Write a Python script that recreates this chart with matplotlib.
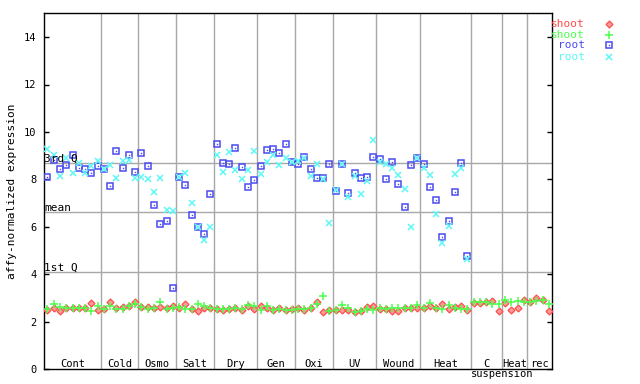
import matplotlib
matplotlib.use("Agg")
import matplotlib.pyplot as plt
from matplotlib.lines import Line2D
from matplotlib import transforms

# ---------------- data ----------------
groups = ["Cont", "Cold", "Osmo", "Salt", "Dry", "Gen", "Oxi", "UV",
          "Wound", "Heat", "C", "Heat", "rec"]
group_sizes = [9, 6, 6, 6, 7, 6, 6, 7, 7, 8, 5, 4, 4]

root_rep1 = [8.10, 8.81, 8.43, 8.60, 9.02, 8.48, 8.43, 8.27, 8.56,
             8.42, 7.72, 9.19, 8.48, 9.02, 8.31,
             9.11, 8.56, 6.92, 6.11, 6.24, 3.42,
             8.10, 7.76, 6.49, 6.00, 5.69, 7.38,
             9.49, 8.69, 8.64, 9.32, 8.52, 7.67, 7.97,
             8.56, 9.23, 9.28, 9.11, 9.49, 8.73,
             8.64, 8.94, 8.43, 8.05, 8.05, 8.64,
             7.53, 8.64, 7.42, 8.27, 8.05, 8.10, 8.94,
             8.86, 8.01, 8.73, 7.80, 6.83, 8.60, 8.92,
             8.64, 7.67, 7.13, 5.57, 6.24, 7.46, 8.69, 4.78]

root_rep2 = [9.28, 9.04, 8.14, 8.91, 8.27, 8.69, 8.27, 8.56, 8.77,
             8.45, 8.60, 8.05, 8.77, 8.81, 8.05,
             8.10, 8.01, 7.46, 8.05, 6.70, 6.66,
             8.10, 8.27, 7.00, 6.00, 5.44, 5.99,
             9.04, 8.31, 9.15, 8.39, 8.01, 8.39, 9.19,
             8.22, 8.73, 9.02, 8.60, 8.90, 8.75,
             8.77, 8.90, 8.14, 8.64, 8.00, 6.16,
             7.55, 8.64, 7.25, 8.14, 7.38, 7.93, 9.66,
             8.73, 8.64, 8.48, 8.18, 7.59, 5.99, 8.92,
             8.48, 8.18, 6.54, 5.31, 6.03, 8.22, 8.48, 4.64]

shoot_rep1 = [2.48, 2.60, 2.47, 2.57, 2.57, 2.57, 2.57, 2.78, 2.51,
              2.53, 2.85, 2.57, 2.63, 2.67, 2.85,
              2.61, 2.63, 2.57, 2.64, 2.57, 2.68,
              2.57, 2.75, 2.53, 2.47, 2.57, 2.60,
              2.53, 2.48, 2.53, 2.60, 2.48, 2.67, 2.53,
              2.67, 2.57, 2.48, 2.57, 2.48, 2.53,
              2.57, 2.48, 2.60, 2.82, 2.40, 2.48,
              2.48, 2.48, 2.48, 2.40, 2.46, 2.63, 2.67,
              2.53, 2.53, 2.46, 2.46, 2.57, 2.57, 2.60,
              2.60, 2.67, 2.60, 2.75, 2.53, 2.61, 2.67, 2.48,
              2.78, 2.78, 2.82, 2.89, 2.46,
              2.78, 2.48, 2.57, 2.92,
              2.82, 2.99, 2.92, 2.46]

shoot_rep2 = [2.52, 2.74, 2.61, 2.57, 2.60, 2.57, 2.57, 2.47, 2.67,
              2.53, 2.68, 2.53, 2.53, 2.67, 2.74,
              2.61, 2.53, 2.57, 2.82, 2.54, 2.60,
              2.63, 2.53, 2.53, 2.74, 2.67, 2.60,
              2.53, 2.54, 2.53, 2.60, 2.53, 2.71, 2.67,
              2.48, 2.67, 2.48, 2.54, 2.48, 2.48,
              2.54, 2.54, 2.60, 2.74, 3.08, 2.46,
              2.48, 2.71, 2.57, 2.43, 2.46, 2.54, 2.48,
              2.60, 2.53, 2.57, 2.57, 2.57, 2.60, 2.71,
              2.60, 2.78, 2.57, 2.53, 2.71, 2.57, 2.53, 2.53,
              2.82, 2.82, 2.85, 2.74, 2.74,
              2.92, 2.85, 2.89, 2.85,
              2.85, 2.88, 2.92, 2.75]

ref_labels = ["3rd Q", "mean", "1st Q"]
ref_values = [8.68, 6.61, 4.08]
yticks = [0, 2, 4, 6, 8, 10, 12, 14]
series_labels = ["shoot", "shoot", "root", "root"]

# ---------------- style ----------------
RED = "#ff4c4c"
RED_FACE = "#ff9a9a"
GREEN = "#4cff4c"
BLUE = "#4c4cf0"
CYAN = "#5cf8f8"
GRID = "#a8a8a8"
FONT = "DejaVu Sans Mono"
FS = 8
FS_SMALL = 7.5

plt.rcParams["font.family"] = [FONT, "DejaVu Sans"]

fig = plt.figure(figsize=(6.4, 3.84), dpi=100)
W, H = 640.0, 384.0
L, R, T, B = 44.3, 552.0, 13.3, 369.3
ax = fig.add_axes([L / W, 1 - B / H, (R - L) / W, (B - T) / H])

n_total = len(shoot_rep1)
ax.set_xlim(-0.5, n_total - 0.5)
ax.set_ylim(0, 15)

# group separators and labels
bounds = []
acc = 0
for s in group_sizes[:-1]:
    acc += s
    bounds.append(acc - 0.5)
for b in bounds:
    ax.axvline(b, color=GRID, lw=1.0, zorder=1)

trans = transforms.blended_transform_factory(ax.transData, ax.transAxes)
start = -0.5
for g, s in zip(groups, group_sizes):
    c = start + s / 2.0
    ax.text(c, 0.0075, g, transform=trans, ha="center", va="baseline",
            fontsize=FS_SMALL, color="black", zorder=5)
    start += s
ax.text(bounds[10], -0.022, "suspension", transform=trans, ha="center",
        va="baseline", fontsize=FS_SMALL, color="black", clip_on=False)

# reference lines
for lab, v in zip(ref_labels, ref_values):
    ax.axhline(v, color=GRID, lw=1.0, zorder=1)
    ax.text(-0.5, v + 0.06, lab, ha="left", va="baseline", fontsize=FS,
            color="black", zorder=5)

# data
xs_shoot = list(range(len(shoot_rep1)))
xs_root = list(range(len(root_rep1)))
ax.plot(xs_shoot, shoot_rep1, ls="none", marker="D", ms=3.5,
        mfc=RED_FACE, mec=RED, mew=0.9, zorder=3)
ax.plot(xs_shoot, shoot_rep2, ls="none", marker="+", ms=5.3,
        mec=GREEN, mew=1.1, zorder=3)
ax.plot(xs_root, root_rep1, ls="none", marker="s", ms=4.1,
        mfc="none", mec=BLUE, mew=1.1, zorder=3)
ax.plot(xs_root, root_rep1, ls="none", marker="s", ms=1.0,
        mfc=BLUE, mec=BLUE, mew=0, zorder=3)
ax.plot(xs_root, root_rep2, ls="none", marker="x", ms=4.8,
        mec=CYAN, mew=1.1, zorder=4)

# axes styling
ax.set_xticks([])
ax.set_yticks(yticks)
ax.set_yticklabels([str(t) for t in yticks], fontsize=FS_SMALL)
ax.tick_params(axis="y", direction="in", length=3.6, width=1.0,
               right=True, left=True, labelleft=True, labelright=False, pad=5.8)
for sp in ax.spines.values():
    sp.set_color("black")
    sp.set_linewidth(1.0)

fig.text(12 / W, 1 - 191.7 / H, "affy-normalized expression", rotation=90,
         ha="center", va="center", fontsize=FS, color="black")

# legend (manual)
leg_colors = [RED, GREEN, BLUE, CYAN]
leg_y = [24.0, 34.7, 45.3, 56.7]
for lab, col, yy in zip(series_labels, leg_colors, leg_y):
    fig.text(585 / W, 1 - yy / H, lab, ha="right", va="center",
             fontsize=FS, color=col)
fig.add_artist(Line2D([609 / W], [1 - leg_y[0] / H], ls="none", marker="D",
                      ms=3.5, mfc=RED_FACE, mec=RED, mew=0.9,
                      transform=fig.transFigure))
fig.add_artist(Line2D([609 / W], [1 - leg_y[1] / H], ls="none", marker="+",
                      ms=5.3, mec=GREEN, mew=1.1, transform=fig.transFigure))
fig.add_artist(Line2D([609 / W], [1 - leg_y[2] / H], ls="none", marker="s",
                      ms=4.1, mfc="none", mec=BLUE, mew=1.1,
                      transform=fig.transFigure))
fig.add_artist(Line2D([609 / W], [1 - leg_y[2] / H], ls="none", marker="s",
                      ms=1.0, mfc=BLUE, mec=BLUE, mew=0,
                      transform=fig.transFigure))
fig.add_artist(Line2D([609 / W], [1 - leg_y[3] / H], ls="none", marker="x",
                      ms=4.8, mec=CYAN, mew=1.1, transform=fig.transFigure))

fig.savefig("out.png", dpi=100)
